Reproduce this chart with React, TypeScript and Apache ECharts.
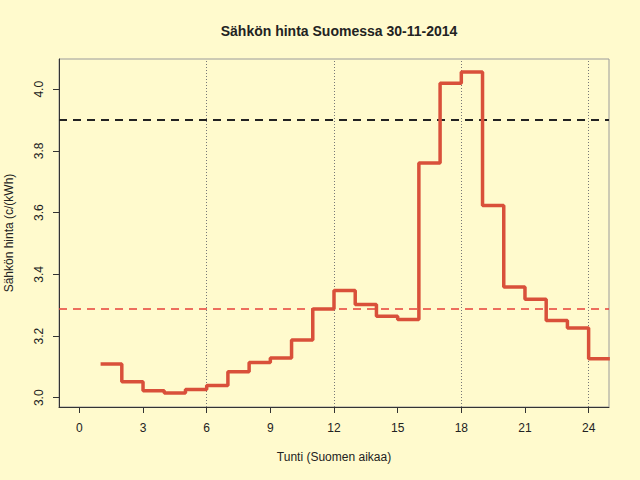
import React, { useEffect, useRef } from "react";
import * as echarts from "echarts";

const hours = [1, 2, 3, 4, 5, 6, 7, 8, 9, 10, 11, 12, 13, 14, 15, 16, 17, 18, 19, 20, 21, 22, 23, 24, 25];
const prices = [3.109, 3.052, 3.023, 3.015, 3.027, 3.04, 3.084, 3.114, 3.129, 3.187, 3.288, 3.348, 3.302, 3.264, 3.254, 3.761, 4.019, 4.056, 3.623, 3.359, 3.319, 3.25, 3.226, 3.126, 3.126];
const xTicks = [0, 3, 6, 9, 12, 15, 18, 21, 24];
const yTicks = [3.0, 3.2, 3.4, 3.6, 3.8, 4.0];
const vLines = [6, 12, 18, 24];
const highLine = 3.9;
const avgLine = 3.29;
const title = "Sähkön hinta Suomessa 30-11-2014";
const xName = "Tunti (Suomen aikaa)";
const yName = "Sähkön hinta (c/(kWh)";

const FONT = "Liberation Sans, Arial, Helvetica, sans-serif";

export default function App() {
  const ref = useRef<HTMLDivElement>(null);
  useEffect(() => {
    if (!ref.current) return;
    const chart = echarts.init(ref.current, undefined, { renderer: "svg" });
    chart.setOption({
      animation: false,
      backgroundColor: "#fffacd",
      textStyle: { fontFamily: FONT },
      title: {
        text: title,
        left: 334,
        top: 19,
        textAlign: "center",
        textStyle: { fontFamily: FONT, fontSize: 14, fontWeight: "bold", color: "#222" },
      },
      grid: {
        left: 59,
        right: 31,
        top: 59,
        bottom: 73,
        containLabel: false,
        outerBoundsMode: "none",
        show: true,
        borderColor: "#9a9a9a",
        borderWidth: 1,
        backgroundColor: "transparent",
      },
      xAxis: {
        type: "value",
        min: -0.96,
        max: 24.96,
        name: xName,
        nameLocation: "middle",
        nameGap: 44,
        nameTextStyle: { fontFamily: FONT, fontSize: 12, color: "#222" },
        axisLine: { show: true, onZero: false, lineStyle: { color: "#333", width: 1 } },
        axisTick: { show: true, length: 6, customValues: xTicks, lineStyle: { color: "#333" } },
        axisLabel: { customValues: xTicks, margin: 15, fontSize: 12, color: "#222", fontFamily: FONT },
        splitLine: { show: false },
      },
      yAxis: {
        type: "value",
        min: 2.97,
        max: 4.098,
        name: yName,
        nameLocation: "middle",
        nameGap: 44,
        nameRotate: 90,
        nameTextStyle: { fontFamily: FONT, fontSize: 12, color: "#222" },
        axisLine: { show: true, onZero: false, lineStyle: { color: "#333", width: 1 } },
        axisTick: { show: true, length: 6, customValues: yTicks, lineStyle: { color: "#333" } },
        axisLabel: {
          customValues: yTicks,
          rotate: 90,
          margin: 14,
          fontSize: 12,
          color: "#222",
          fontFamily: FONT,
          formatter: (v: number) => v.toFixed(1),
        },
        splitLine: { show: false },
      },
      series: [
        {
          type: "line",
          step: "end",
          clip: true,
          symbol: "none",
          data: hours.map((h, i) => [h, prices[i]]),
          lineStyle: { color: "#d9503a", width: 3.5 },
          z: 3,
          markLine: {
            silent: true,
            symbol: "none",
            label: { show: false },
            z: 2,
            data: [
              ...vLines.map((v) => ({
                xAxis: v,
                lineStyle: { color: "#777", type: [1, 2], width: 1 },
              })),
              { yAxis: highLine, lineStyle: { color: "#222", type: [8, 6], width: 2 } },
              { yAxis: avgLine, lineStyle: { color: "#e8403a", type: [8, 6], width: 1.5 } },
            ],
          },
        },
      ],
    });
    return () => chart.dispose();
  }, []);
  return <div ref={ref} style={{ width: 640, height: 480, position: "absolute", left: 0, top: 0 }} />;
}
